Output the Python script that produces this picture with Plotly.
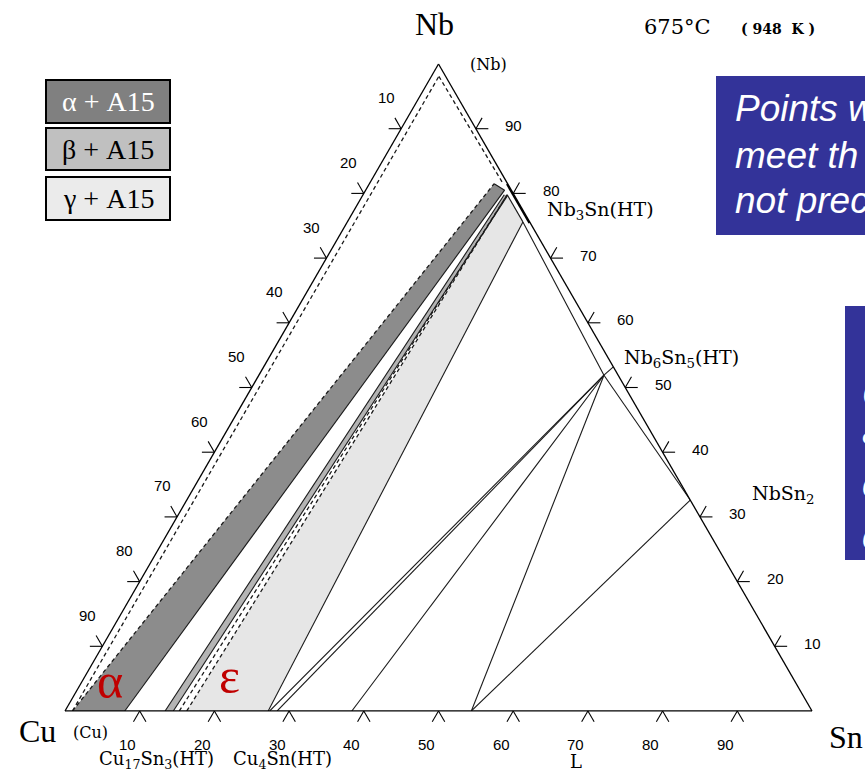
import math
import plotly.graph_objects as go

# Cu-Nb-Sn isothermal section, 675 °C.  Compositions in at.%, each point (Cu, Sn, Nb).

# two-phase fields with the A15 phase (quadrilaterals: two binary Cu-Sn ends, two A15 ends)
ALPHA_A15 = [(99.0, 1.0, 0.0), (92.0, 8.0, 0.0), (0.9, 18.6, 80.5), (1.8, 16.7, 81.5)]
BETA_A15 = [(86.6, 13.4, 0.0), (85.5, 14.5, 0.0), (0.9, 19.4, 79.7), (1.3, 18.9, 79.8)]
GAMMA_A15 = [(83.7, 16.3, 0.0), (72.8, 27.2, 0.0), (0.9, 23.5, 75.6), (0.9, 19.3, 79.8)]

# phase points
NB_SS = (0.9, 1.0, 98.1)          # (Nb) solvus corner
A15_RICH = (0.0, 18.5, 81.5)      # Nb-rich end of Nb3Sn on the binary edge
A15_POOR = (0.0, 24.5, 75.5)      # Sn-rich end of Nb3Sn on the binary edge
A15_CU = (0.9, 23.5, 75.6)        # Cu-saturated Nb3Sn
NB6SN5 = (1.9, 46.2, 51.9)
NB6SN5_BIN = (0.0, 46.8, 53.2)
NBSN2 = (0.0, 67.4, 32.6)
EPS_1 = (72.6, 27.4, 0.0)
EPS_2 = (71.6, 28.4, 0.0)
L_CU = (61.6, 38.4, 0.0)
L_SN = (45.6, 54.4, 0.0)
BETA_DASH_BIN = (84.7, 15.3, 0.0)
NB_SS_BIN = (99.0, 1.0, 0.0)
NB_SS_A15 = (0.6, 18.0, 81.4)

SOLID_LINES = [
    (ALPHA_A15[1], ALPHA_A15[2]), (ALPHA_A15[2], ALPHA_A15[3]),
    (BETA_A15[0], BETA_A15[3]), (BETA_A15[1], BETA_A15[2]),
    (GAMMA_A15[1], GAMMA_A15[2]), (GAMMA_A15[2], GAMMA_A15[3]),
    (A15_CU, NB6SN5), (NB6SN5, NB6SN5_BIN), (NB6SN5, NBSN2),
    (EPS_1, NB6SN5), (EPS_2, NB6SN5), (L_CU, NB6SN5),
    (L_SN, NB6SN5), (L_SN, NBSN2),
]
DASHED_LINES = [
    (NB_SS_BIN, NB_SS), (NB_SS, NB_SS_A15),
    (ALPHA_A15[0], ALPHA_A15[3]),
    (BETA_DASH_BIN, GAMMA_A15[3]),
    (GAMMA_A15[0], GAMMA_A15[3]),
]
A15_RANGE = [A15_RICH, A15_POOR]

TICKS = [10, 20, 30, 40, 50, 60, 70, 80, 90]

# ---------------------------------------------------------------- layout geometry
FIG_W, FIG_H = 865, 772
M_L, M_R, M_T, M_B = 65, 53, 64, 61
PLOT_W = FIG_W - M_L - M_R
PLOT_H = FIG_H - M_T - M_B


def paper(x, y):
    """Pixel position -> paper coordinates."""
    return (x - M_L) / PLOT_W, (FIG_H - M_B - y) / PLOT_H


def comp_paper(p):
    """Composition -> paper coordinates (the ternary fills the plot area)."""
    cu, sn, nb = p
    return (sn + nb / 2) / 100.0, nb / 100.0


def abc(points):
    a, b, c = [], [], []
    for p in points:
        if p is None:
            a.append(None); b.append(None); c.append(None)
        else:
            cu, sn, nb = p
            a.append(nb); b.append(cu); c.append(sn)
    return dict(a=a, b=b, c=c)


def segments(pairs):
    pts = []
    for p, q in pairs:
        pts += [p, q, None]
    return pts


fig = go.Figure()

# shaded two-phase fields
for pts, col in [(ALPHA_A15, "#8c8c8c"), (BETA_A15, "#b4b4b4"), (GAMMA_A15, "#e6e6e6")]:
    fig.add_trace(go.Scatterternary(**abc(pts + [pts[0]]), mode="lines", fill="toself",
                                    fillcolor=col, line=dict(width=0, color=col),
                                    hoverinfo="skip", showlegend=False))

fig.add_trace(go.Scatterternary(**abc(segments(SOLID_LINES)), mode="lines",
                                line=dict(color="#1a1a1a", width=1.1),
                                hoverinfo="skip", showlegend=False))
fig.add_trace(go.Scatterternary(**abc(segments(DASHED_LINES)), mode="lines",
                                line=dict(color="#1a1a1a", width=1.3, dash="4px,3px"),
                                hoverinfo="skip", showlegend=False))
fig.add_trace(go.Scatterternary(**abc(A15_RANGE), mode="lines",
                                line=dict(color="black", width=3.5),
                                hoverinfo="skip", showlegend=False))

shapes = []
annotations = []


def rect(x0, y0, x1, y1, fill, line_col="black", lw=2):
    (px0, py0), (px1, py1) = paper(x0, y0), paper(x1, y1)
    shapes.append(dict(type="rect", xref="paper", yref="paper", x0=px0, y0=py1, x1=px1, y1=py0,
                       fillcolor=fill, line=dict(color=line_col, width=lw), layer="above"))


def label(text, x, y, size, family="DejaVu Serif", color="black", xanchor="center"):
    px_, py_ = paper(x, y)
    annotations.append(dict(text=text, x=px_, y=py_, xref="paper", yref="paper", showarrow=False,
                            xanchor=xanchor, yanchor="middle",
                            font=dict(family=family, size=size, color=color)))


# edge ticks: two short strokes meeting on the edge, outside the triangle,
# with the reading of that edge written beside them
EDGES = {
    "left": dict(point=lambda v: (v, 0.0, 100.0 - v), strokes=(180, 120), label=(-15, 31)),
    "bottom": dict(point=lambda v: (100.0 - v, v, 0.0), strokes=(240, 300), label=(-12, -33)),
    "right": dict(point=lambda v: (0.0, 100.0 - v, v), strokes=(0, 60), label=(38, 3)),
}
TICK_LEN = 12.5
for edge, spec in EDGES.items():
    for v in TICKS:
        x0, y0 = comp_paper(spec["point"](v))
        for th in spec["strokes"]:
            r = math.radians(th)
            shapes.append(dict(type="line", xref="paper", yref="paper", x0=x0, y0=y0,
                               x1=x0 + TICK_LEN * math.cos(r) / PLOT_W,
                               y1=y0 + TICK_LEN * math.sin(r) / PLOT_H,
                               line=dict(color="black", width=1.1)))
        dx, dy = spec["label"]
        annotations.append(dict(text=str(v), x=x0 + dx / PLOT_W, y=y0 + dy / PLOT_H,
                                xref="paper", yref="paper", showarrow=False,
                                xanchor="center", yanchor="middle",
                                font=dict(family="Liberation Sans", size=15, color="black")))

axis = dict(showline=True, linecolor="black", linewidth=1.3, showgrid=False,
            showticklabels=False, ticks="", title=dict(text=""), min=0)

# legend of the shaded fields
rect(46, 80, 170, 123, "#808080")
rect(46, 128, 170, 170, "#c0c0c0")
rect(46, 177, 170, 220, "#ebebeb")
label("α + A15", 108, 101, 28, "Liberation Serif", "white")
label("β + A15", 108, 149, 28, "Liberation Serif")
label("γ + A15", 108, 198, 28, "Liberation Serif")

# note boxes
rect(716, 76, 880, 235, "#333399", "#333399", 0)
rect(845, 306, 880, 560, "#333399", "#333399", 0)
for txt, y in [("Points w", 108), ("meet th", 155), ("not prec", 201)]:
    label(f"<i>{txt}</i>", 733, y, 37, "Liberation Sans", "white", "left")
for txt, y in [("C", 394), ("a", 432), ("c", 484), ("c", 536)]:
    label(f"<i>{txt}</i>", 860, y, 37, "Liberation Sans", "white", "left")

# corner and phase labels
label("Nb", 434, 24, 32, "Liberation Serif")
label("Cu", 37, 731, 32, "Liberation Serif")
label("Sn", 846, 737, 32, "Liberation Serif")
label("675°C", 677, 27, 21)
label("<b>( 948  K )</b>", 778, 29, 14)
label("(Nb)", 488, 64, 16)
label("(Cu)", 90, 732, 16)
label("Nb<sub>3</sub>Sn(HT)", 545, 210, 19, xanchor="left")
label("Nb<sub>6</sub>Sn<sub>5</sub>(HT)", 622, 358, 19, xanchor="left")
label("NbSn<sub>2</sub>", 750, 494, 19, xanchor="left")
label("Cu<sub>17</sub>Sn<sub>3</sub>(HT)", 97, 760, 18, xanchor="left")
label("Cu<sub>4</sub>Sn(HT)", 231, 760, 18, xanchor="left")
label("L", 576, 761, 18)
label("α", 110, 681, 50, "Liberation Serif", "#c00000")
label("ε", 229, 676, 50, "Liberation Serif", "#c00000")

fig.update_layout(
    width=FIG_W, height=FIG_H,
    margin=dict(l=M_L, r=M_R, t=M_T, b=M_B),
    paper_bgcolor="white",
    ternary=dict(sum=100, bgcolor="white", aaxis=axis, baxis=axis, caxis=axis,
                 domain=dict(x=[0, 1], y=[0, 1])),
    shapes=shapes, annotations=annotations,
    showlegend=False,
)

fig.write_html("out.html")
